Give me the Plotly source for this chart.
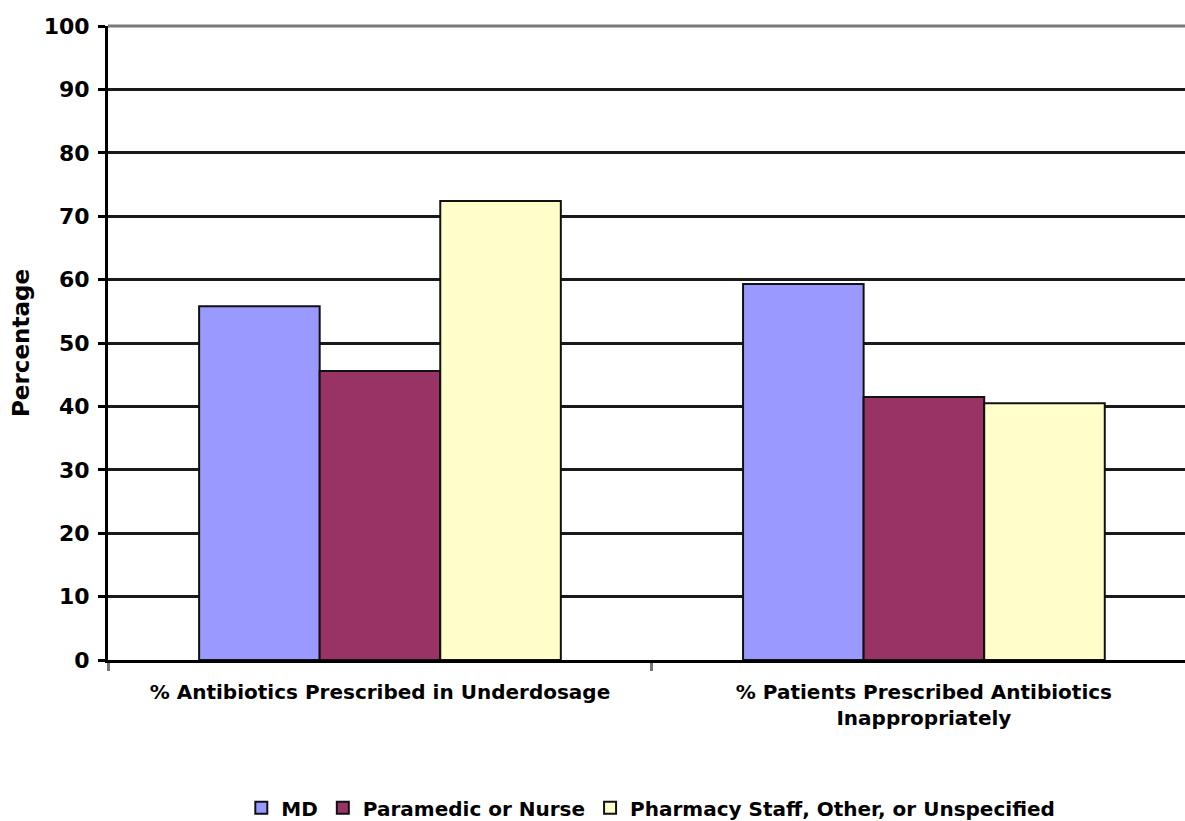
import plotly.graph_objects as go

categories = ["% Antibiotics Prescribed in Underdosage",
              "% Patients Prescribed Antibiotics<br>Inappropriately"]
series_names = ["MD", "Paramedic or Nurse", "Pharmacy Staff, Other, or Unspecified"]
md_values = [55.8, 59.3]
nurse_values = [45.6, 41.5]
pharmacy_values = [72.4, 40.5]
y_ticks = [0, 10, 20, 30, 40, 50, 60, 70, 80, 90, 100]

colors = ["#9999FF", "#993366", "#FFFFCC"]
font_family = "DejaVu Sans"

fig = go.Figure()
for name, vals, col in zip(series_names, [md_values, nurse_values, pharmacy_values], colors):
    fig.add_trace(go.Bar(
        x=categories, y=vals, name=name,
        marker=dict(color=col, line=dict(color="#111111", width=2)),
    ))

fig.update_layout(
    width=1185, height=821,
    margin=dict(l=108, r=0, t=26, b=161),
    paper_bgcolor="white", plot_bgcolor="white",
    barmode="group", bargap=0.335, bargroupgap=0,
    font=dict(family=font_family, size=17, color="black"),
    showlegend=True,
    legend=dict(
        orientation="h", x=0.504, xanchor="center",
        yref="container", y=0.016, yanchor="middle",
        font=dict(family=font_family, size=20, weight="bold"),
        tracegroupgap=0,
    ),
    xaxis=dict(
        range=[-0.5, 1.48],
        showline=True, linecolor="black", linewidth=3,
        ticks="outside", tickson="boundaries", ticklen=8, tickwidth=3, tickcolor="#777777",
        tickfont=dict(family=font_family, size=20, weight="bold"),
        ticklabelstandoff=12,
        showgrid=False,
    ),
    yaxis=dict(
        range=[0, 100], tickvals=y_ticks,
        showline=True, linecolor="black", linewidth=3,
        ticks="outside", ticklen=7, tickwidth=3, tickcolor="black",
        tickfont=dict(family=font_family, size=22, weight="bold"),
        ticklabelstandoff=4,
        showgrid=True, gridcolor="#1a1a1a", gridwidth=3,
        zeroline=False,
        title=dict(text="Percentage", standoff=8,
                   font=dict(family=font_family, size=23, weight="bold")),
    ),
    shapes=[dict(type="line", xref="paper", yref="paper", x0=0, x1=1, y0=1, y1=1,
                 line=dict(color="#7a7a7a", width=3), layer="above")],
)

fig.write_html("out.html")
